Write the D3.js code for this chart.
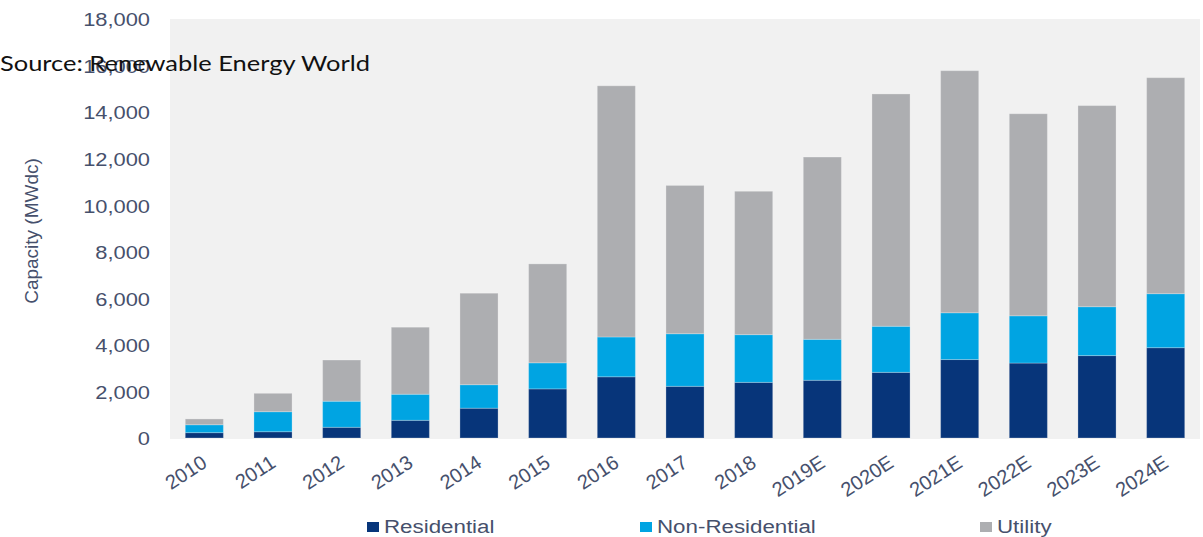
<!DOCTYPE html>
<html>
<head>
<meta charset="utf-8">
<script src="https://cdn.jsdelivr.net/npm/d3@7/dist/d3.min.js"></script>
<style>
  html, body { margin: 0; padding: 0; background: #ffffff; }
  svg { display: block; }
</style>
</head>
<body>
<svg id="chart" width="1203" height="537"></svg>
<script>
// Annual US solar installations by segment (MWdc)
const years = ["2010","2011","2012","2013","2014","2015","2016","2017","2018",
               "2019E","2020E","2021E","2022E","2023E","2024E"];
const residential    = [230, 270, 460, 760, 1280, 2110, 2630, 2220, 2390, 2480, 2820, 3370, 3220, 3540, 3880];
const nonResidential = [340, 860, 1120, 1120, 1010, 1120, 1710, 2260, 2050, 1760, 1980, 2010, 2030, 2100, 2320];
const utility        = [250, 790, 1770, 2880, 3930, 4250, 10790, 6370, 6160, 7830, 9980, 10400, 8680, 8640, 9280];
const seriesNames = ["Residential", "Non-Residential", "Utility"];
const yTicks = [0, 2000, 4000, 6000, 8000, 10000, 12000, 14000, 16000, 18000];
const sourceNote = "Source: Renewable Energy World";

const colors = { "Residential": "#07357a", "Non-Residential": "#00a4e2", "Utility": "#adaeb1" };
const font = "'Liberation Sans', Arial, sans-serif";
const textColor = "#46506c";

const svg = d3.select("#chart");
const plot = { left: 170, right: 1200, top: 19, bottom: 438 };

const rows = years.map((y, i) => ({
  year: y,
  "Residential": residential[i],
  "Non-Residential": nonResidential[i],
  "Utility": utility[i]
}));
const stacked = d3.stack().keys(seriesNames)(rows);

const x = d3.scaleBand().domain(years).range([plot.left, plot.right])
  .paddingInner(0.445).paddingOuter(0.2225);
const y = d3.scaleLinear().domain([0, 18000]).range([plot.bottom, plot.top]);

// plot background
svg.append("rect")
  .attr("x", plot.left).attr("y", plot.top)
  .attr("width", plot.right - plot.left).attr("height", plot.bottom - plot.top + 1)
  .attr("fill", "#f1f1f1");

// stacked bars
svg.append("g").selectAll("g").data(stacked).join("g")
  .attr("fill", d => colors[d.key])
  .selectAll("rect").data(d => d).join("rect")
  .attr("x", d => x(d.data.year))
  .attr("width", x.bandwidth())
  .attr("y", d => y(d[1]))
  .attr("height", d => y(d[0]) - y(d[1]))
  .attr("stroke", "#ffffff").attr("stroke-opacity", 0.25).attr("stroke-width", 1);

// y axis
const yAxis = svg.append("g")
  .attr("transform", `translate(${plot.left},0)`)
  .call(d3.axisLeft(y).tickValues(yTicks).tickFormat(d3.format(",")).tickSize(0).tickPadding(20));
yAxis.select(".domain").remove();
yAxis.selectAll("text")
  .attr("font-family", font).attr("font-size", 19).attr("fill", textColor)
  .attr("dy", "0.36em").attr("data-widen", 1.15);

// x axis
const xAxis = svg.append("g")
  .attr("transform", `translate(0,${plot.bottom})`)
  .call(d3.axisBottom(x).tickSize(0).tickPadding(0));
xAxis.select(".domain").remove();
xAxis.selectAll("text")
  .attr("font-family", font).attr("font-size", 20).attr("fill", textColor)
  .attr("text-anchor", "end")
  .attr("dy", "0")
  .attr("transform", "translate(4,28) rotate(-33)");

// axis title
svg.append("text")
  .attr("transform", "translate(38,231) rotate(-90)")
  .attr("text-anchor", "middle")
  .attr("font-family", font).attr("font-size", 19).attr("fill", textColor)
  .text("Capacity (MWdc)");

// legend
const legendX = [367, 640, 980];
const legend = svg.append("g").selectAll("g").data(seriesNames).join("g")
  .attr("transform", (d, i) => `translate(${legendX[i]},522)`);
legend.append("rect").attr("width", 12).attr("height", 10).attr("fill", d => colors[d]);
legend.append("text")
  .attr("x", 17).attr("y", 5).attr("dy", "0.34em")
  .attr("font-family", font).attr("font-size", 18).attr("fill", textColor)
  .attr("data-widen", 1.24)
  .text(d => d);

// source note
svg.append("text")
  .attr("x", 0).attr("y", 71)
  .attr("font-family", "Lato, 'Open Sans', sans-serif").attr("font-size", 22).attr("fill", "#111111")
  .attr("textLength", 370).attr("lengthAdjust", "spacingAndGlyphs")
  .text(sourceNote);

// widen horizontal labels
svg.selectAll("text[data-widen]").each(function () {
  const k = +this.getAttribute("data-widen");
  const w = this.getComputedTextLength();
  d3.select(this).attr("textLength", w * k).attr("lengthAdjust", "spacingAndGlyphs");
});
</script>
</body>
</html>
